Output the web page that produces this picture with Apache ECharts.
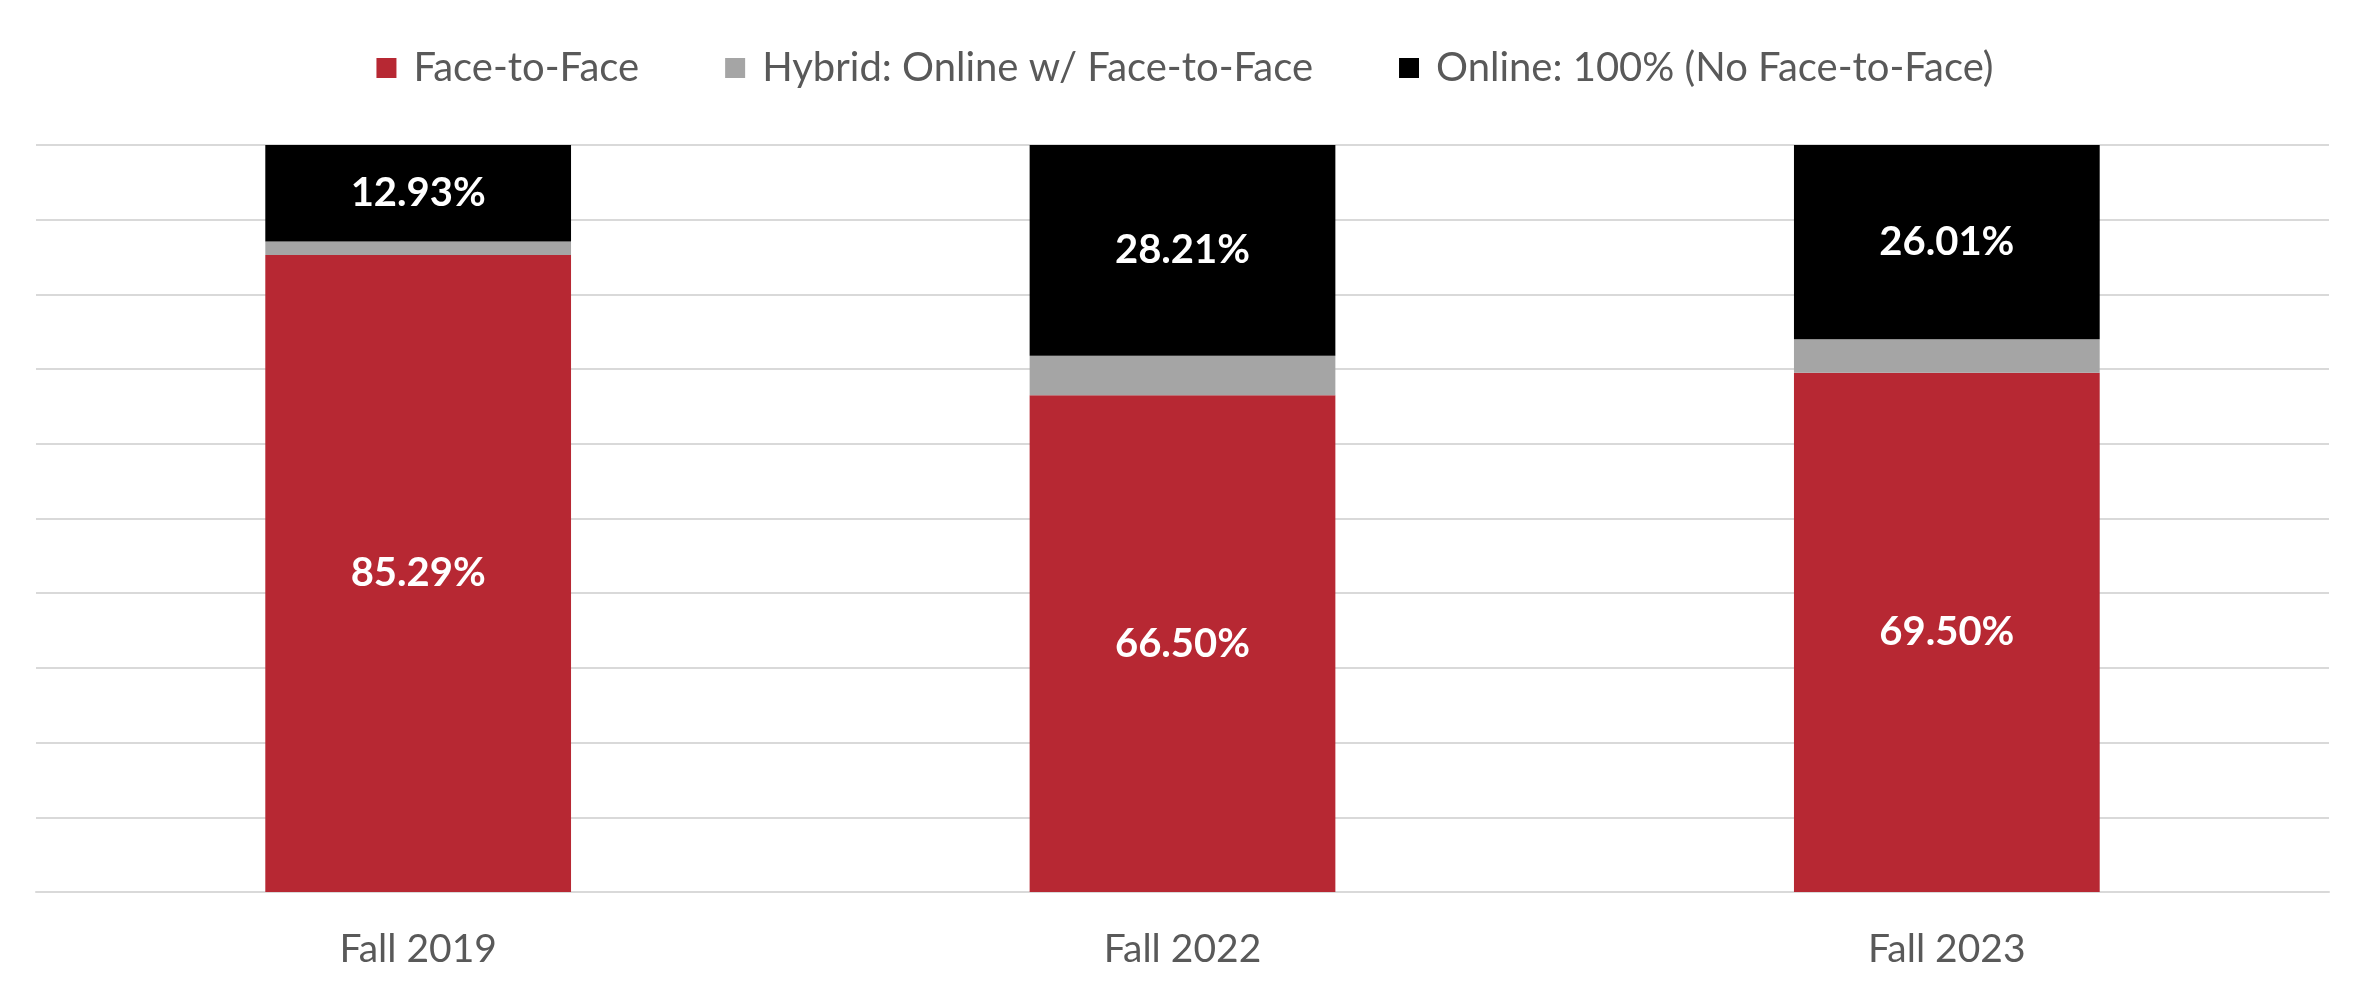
<!DOCTYPE html>
<html><head><meta charset="utf-8">
<script src="https://cdn.jsdelivr.net/npm/echarts@6/dist/echarts.min.js"></script>
<style>html,body{margin:0;padding:0;background:#fff}#c{width:2370px;height:992px}</style>
</head><body><div id="c"></div>
<script>
const categories = ['Fall 2019', 'Fall 2022', 'Fall 2023'];
const faceToFace = [85.29, 66.50, 69.50];
const hybrid = [1.78, 5.29, 4.49];
const online = [12.93, 28.21, 26.01];
const seriesNames = ['Face-to-Face', 'Hybrid: Online w/ Face-to-Face', 'Online: 100% (No Face-to-Face)'];
const colors = ['#B72833', '#A5A5A5', '#000000'];

const FONT = 'Lato, "Open Sans", sans-serif';
const chart = echarts.init(document.getElementById('c'), null, {renderer: 'canvas'});
const lbl = {show: true, position: 'inside', color: '#fff', fontWeight: 'bold', fontSize: 40, fontFamily: FONT,
  formatter: p => p.value.toFixed(2) + '%'};
chart.setOption({
  animation: false,
  color: colors,
  legend: {
    top: 43, left: 'center',
    itemWidth: 20, itemHeight: 20, itemGap: 86,
    icon: 'rect',
    textStyle: {fontSize: 40, color: '#595959', fontFamily: FONT, padding: [0, 0, 0, 12]},
    data: seriesNames
  },
  grid: {left: 36, right: 41, top: 145, bottom: 100, containLabel: false},
  xAxis: {
    type: 'category', data: categories,
    axisLine: {show: true, lineStyle: {color: '#d9d9d9', width: 2}},
    axisTick: {show: false},
    axisLabel: {fontSize: 39, color: '#595959', fontFamily: FONT, margin: 38}
  },
  yAxis: {
    type: 'value', min: 0, max: 100, interval: 10,
    axisLabel: {show: false}, axisLine: {show: false}, axisTick: {show: false},
    splitLine: {lineStyle: {color: '#d9d9d9', width: 2}}
  },
  series: [
    {name: seriesNames[0], type: 'bar', stack: 'a', data: faceToFace, barWidth: '40%', label: lbl},
    {name: seriesNames[1], type: 'bar', stack: 'a', data: hybrid, barWidth: '40%'},
    {name: seriesNames[2], type: 'bar', stack: 'a', data: online, barWidth: '40%', label: lbl}
  ]
});
</script></body></html>
